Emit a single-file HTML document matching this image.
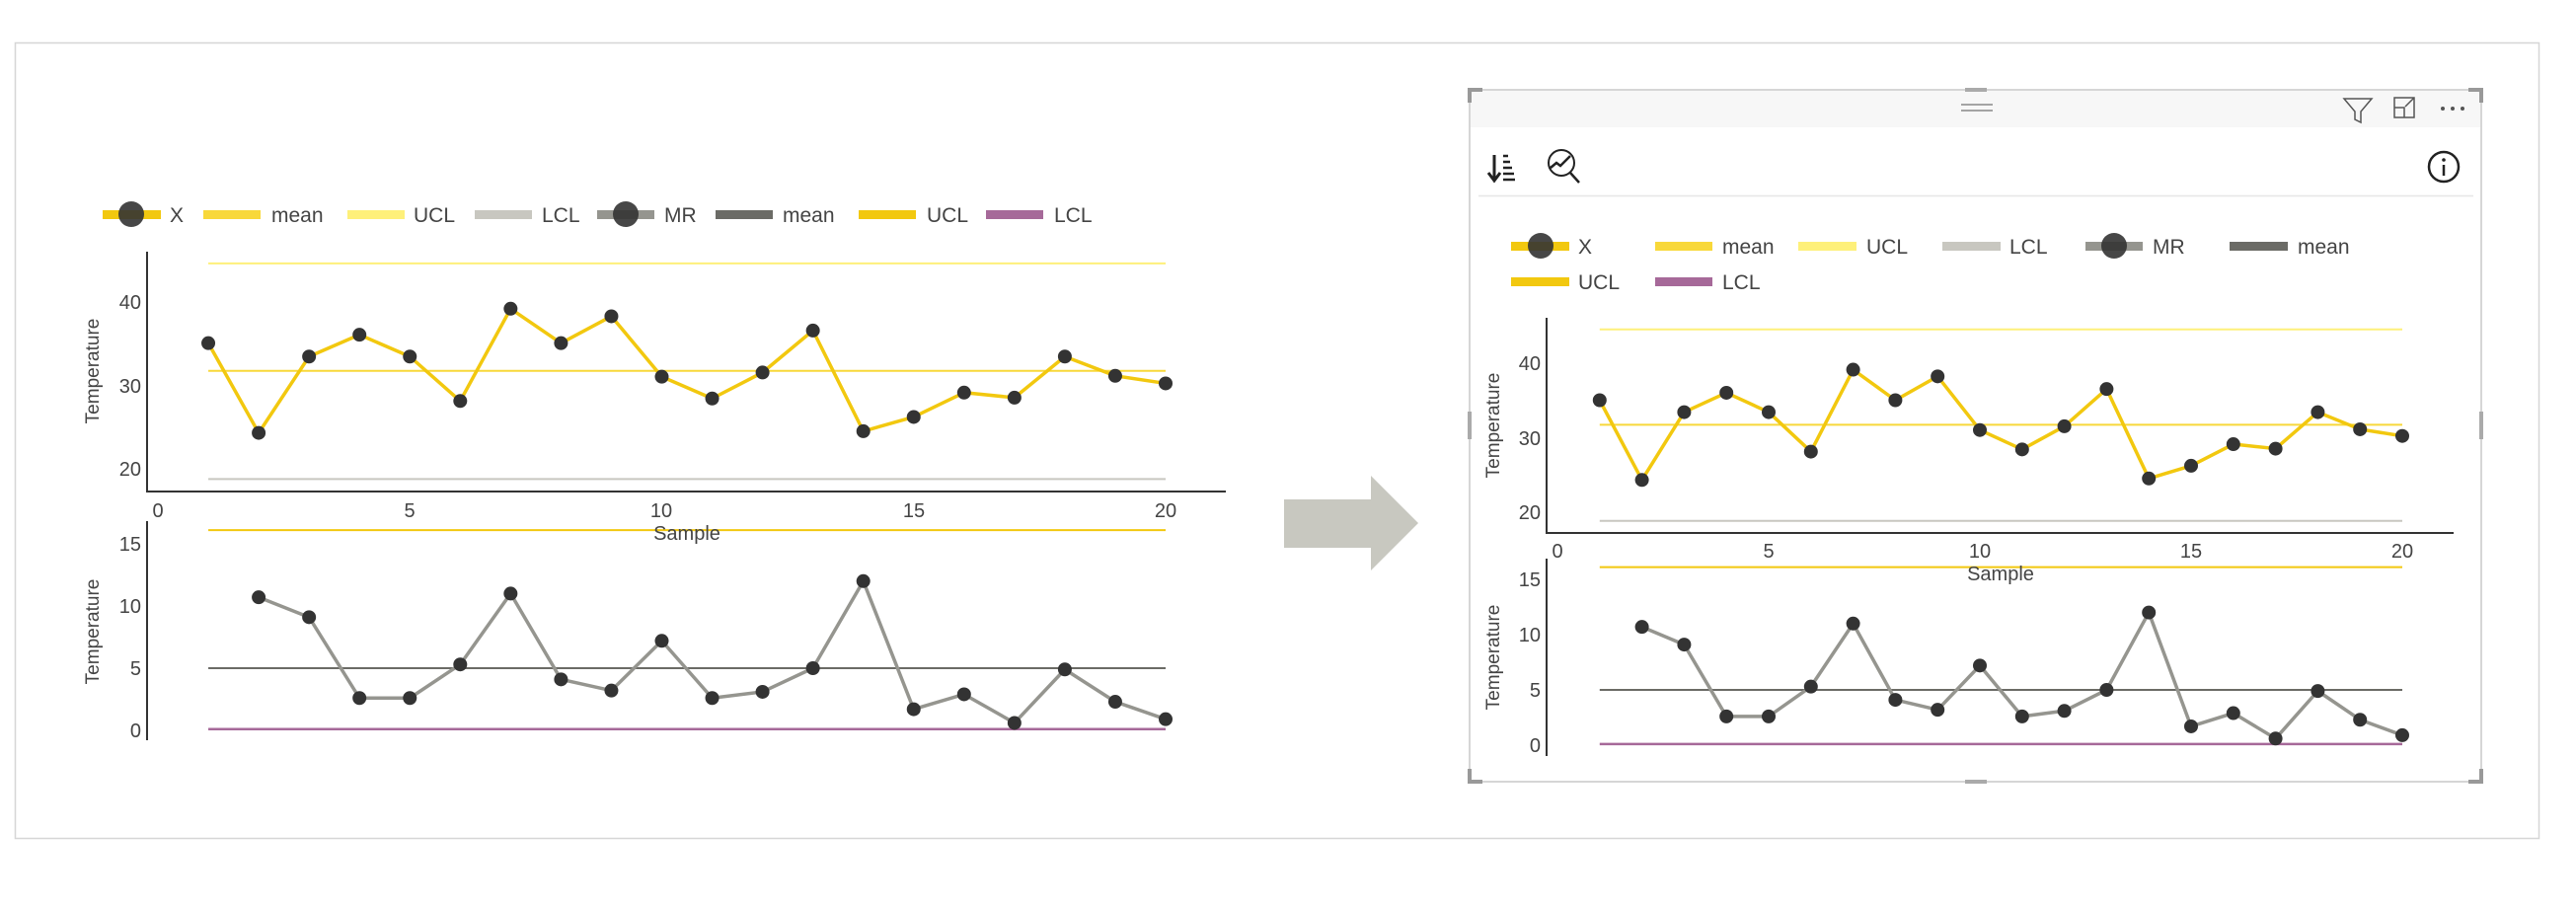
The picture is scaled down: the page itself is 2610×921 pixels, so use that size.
<!DOCTYPE html>
<html><head><meta charset="utf-8"><style>
html,body{margin:0;padding:0;background:#fff;}
svg{display:block;font-family:"Liberation Sans",sans-serif;}
</style></head><body>
<svg width="2610" height="921" viewBox="0 0 2610 921" xmlns="http://www.w3.org/2000/svg">
<defs>
<polyline id="xl" points="1,35.1 2,24.4 3,33.5 4,36.1 5,33.5 6,28.2 7,39.2 8,35.1 9,38.3 10,31.1 11,28.5 12,31.6 13,36.6 14,24.6 15,26.3 16,29.2 17,28.6 18,33.5 19,31.2 20,30.3" fill="none" stroke="#F2C80F" stroke-width="3.5" vector-effect="non-scaling-stroke" stroke-linejoin="round"/>
<path id="xd" d="M1 35.1h0M2 24.4h0M3 33.5h0M4 36.1h0M5 33.5h0M6 28.2h0M7 39.2h0M8 35.1h0M9 38.3h0M10 31.1h0M11 28.5h0M12 31.6h0M13 36.6h0M14 24.6h0M15 26.3h0M16 29.2h0M17 28.6h0M18 33.5h0M19 31.2h0M20 30.3h0" stroke="#333" stroke-width="14" stroke-linecap="round" vector-effect="non-scaling-stroke"/>
<polyline id="ml" points="2,10.7 3,9.1 4,2.6 5,2.6 6,5.3 7,11 8,4.1 9,3.2 10,7.2 11,2.6 12,3.1 13,5 14,12 15,1.7 16,2.9 17,0.6 18,4.9 19,2.3 20,0.9" fill="none" stroke="#95958F" stroke-width="3.5" vector-effect="non-scaling-stroke" stroke-linejoin="round"/>
<path id="md" d="M2 10.7h0M3 9.1h0M4 2.6h0M5 2.6h0M6 5.3h0M7 11h0M8 4.1h0M9 3.2h0M10 7.2h0M11 2.6h0M12 3.1h0M13 5h0M14 12h0M15 1.7h0M16 2.9h0M17 0.6h0M18 4.9h0M19 2.3h0M20 0.9h0" stroke="#333" stroke-width="14" stroke-linecap="round" vector-effect="non-scaling-stroke"/>
<g id="xlim">
<path d="M1 44.6H20" stroke="#FEF07A" stroke-width="2" vector-effect="non-scaling-stroke"/>
<path d="M1 31.8H20" stroke="#F8D83A" stroke-width="2" vector-effect="non-scaling-stroke"/>
<path d="M1 18.9H20" stroke="#C8C7C0" stroke-width="2" vector-effect="non-scaling-stroke"/>
</g>
<g id="mlim">
<path d="M1 16.1H20" stroke="#F2C80F" stroke-width="2" vector-effect="non-scaling-stroke"/>
<path d="M1 5H20" stroke="#6B6B66" stroke-width="2" vector-effect="non-scaling-stroke"/>
<path d="M1 0.1H20" stroke="#A66999" stroke-width="2.5" vector-effect="non-scaling-stroke"/>
</g>
</defs>

<!-- outer frame -->
<rect x="15.5" y="43.5" width="2557" height="806" fill="none" stroke="#D6D6D6" stroke-width="1.5"/>

<!-- LEFT -->
<g font-size="21" fill="#444">
<rect x="104" y="213" width="59" height="9" fill="#F2C80F"/><circle cx="133" cy="217" r="13" fill="#333" opacity="0.9"/><text x="172" y="225">X</text>
<rect x="206" y="213" width="58" height="9" fill="#F8D83A"/><text x="275" y="225">mean</text>
<rect x="352" y="213" width="58" height="9" fill="#FEF07A"/><text x="419" y="225">UCL</text>
<rect x="481" y="213" width="58" height="9" fill="#C8C7C0"/><text x="549" y="225">LCL</text>
<rect x="605" y="213" width="58" height="9" fill="#95958F"/><circle cx="634" cy="217" r="13" fill="#333" opacity="0.9"/><text x="673" y="225">MR</text>
<rect x="725" y="213" width="58" height="9" fill="#6B6B66"/><text x="793" y="225">mean</text>
<rect x="870" y="213" width="58" height="9" fill="#F2C80F"/><text x="939" y="225">UCL</text>
<rect x="999" y="213" width="58" height="9" fill="#A66999"/><text x="1068" y="225">LCL</text>
</g>
<g transform="translate(160,646) scale(51.05,-8.5)"><use href="#xlim"/><use href="#xl"/><use href="#xd"/></g>
<g transform="translate(160,740) scale(51.05,-12.6)"><use href="#mlim"/><use href="#ml"/><use href="#md"/></g>
<path d="M149 255V498H1242M149 528V750" stroke="#333" stroke-width="2" fill="none"/>
<g font-size="20" fill="#444" text-anchor="middle">
<text x="160" y="524">0</text><text x="415" y="524">5</text><text x="670" y="524">10</text><text x="926" y="524">15</text><text x="1181" y="524">20</text>
<text x="696" y="547">Sample</text>
</g>
<g font-size="20" fill="#444" text-anchor="end">
<text x="143" y="313">40</text><text x="143" y="398">30</text><text x="143" y="482">20</text>
<text x="143" y="558">15</text><text x="143" y="621">10</text><text x="143" y="684">5</text><text x="143" y="747">0</text>
</g>
<g font-size="19" fill="#444" text-anchor="middle">
<text transform="translate(100,376) rotate(-90)">Temperature</text>
<text transform="translate(100,640) rotate(-90)">Temperature</text>
</g>

<!-- ARROW -->
<polygon points="1301,506 1389,506 1389,482 1437,530 1389,578 1389,555 1301,555" fill="#C8C8C0"/>

<!-- RIGHT -->
<rect x="1489" y="91" width="1025" height="701" fill="#fff" stroke="#C8C8C8" stroke-width="1.5"/>
<rect x="1490" y="92" width="1023" height="37" fill="#F7F7F7"/>
<path d="M1489 104V91H1502M2501 91H2514V104M1489 779V792H1502M2501 792H2514V779" stroke="#999" stroke-width="4" fill="none"/>
<path d="M1991 91h22M1991 792h22M1489 417v28M2514 417v28" stroke="#aaa" stroke-width="4"/>
<path d="M1987 106h32M1987 112h32" stroke="#888" stroke-width="1.5"/>
<path d="M2375 100h28l-11 13v11l-6-3v-8z" fill="none" stroke="#555" stroke-width="1.5"/>
<path d="M2426 99h20v20h-20zM2426 109h10v10M2437 108l9-9M2440 99h6v6" fill="none" stroke="#555" stroke-width="1.5"/>
<g fill="#555"><circle cx="2475" cy="110" r="2"/><circle cx="2485" cy="110" r="2"/><circle cx="2495" cy="110" r="2"/></g>
<path d="M1514 157v25M1508 175l6 8 6-8" stroke="#222" stroke-width="3" fill="none"/>
<path d="M1523 158h5M1523 164h7M1523 170h9M1523 176h11M1523 182h12" stroke="#222" stroke-width="2.5"/>
<circle cx="1582" cy="165" r="13" fill="#fff" stroke="#222" stroke-width="2"/><path d="M1571 170l6-5 4 3 10-10M1591 175l9 10" stroke="#222" stroke-width="2.5" fill="none"/>
<circle cx="2476" cy="169" r="15" fill="none" stroke="#222" stroke-width="2.5"/><circle cx="2476" cy="162" r="1.8" fill="#222"/><path d="M2476 167v11" stroke="#222" stroke-width="2.5"/>
<path d="M1498 198.5H2506" stroke="#E6E6E6" stroke-width="1.5"/>
<g font-size="21" fill="#444">
<rect x="1531" y="245" width="59" height="9" fill="#F2C80F"/><circle cx="1561" cy="249" r="13" fill="#333" opacity="0.9"/><text x="1599" y="257">X</text>
<rect x="1677" y="245" width="58" height="9" fill="#F8D83A"/><text x="1745" y="257">mean</text>
<rect x="1822" y="245" width="59" height="9" fill="#FEF07A"/><text x="1891" y="257">UCL</text>
<rect x="1968" y="245" width="59" height="9" fill="#C8C7C0"/><text x="2036" y="257">LCL</text>
<rect x="2113" y="245" width="58" height="9" fill="#95958F"/><circle cx="2142" cy="249" r="13" fill="#333" opacity="0.9"/><text x="2181" y="257">MR</text>
<rect x="2259" y="245" width="59" height="9" fill="#6B6B66"/><text x="2328" y="257">mean</text>
<rect x="1531" y="281" width="59" height="9" fill="#F2C80F"/><text x="1599" y="293">UCL</text>
<rect x="1677" y="281" width="58" height="9" fill="#A66999"/><text x="1745" y="293">LCL</text>
</g>
<g transform="translate(1578,670.5) scale(42.8,-7.55)"><use href="#xlim"/><use href="#xl"/><use href="#xd"/></g>
<g transform="translate(1578,755) scale(42.8,-11.2)"><use href="#mlim"/><use href="#ml"/><use href="#md"/></g>
<path d="M1567 322V540H2486M1567 566V766" stroke="#333" stroke-width="2" fill="none"/>
<g font-size="20" fill="#444" text-anchor="middle">
<text x="1578" y="565">0</text><text x="1792" y="565">5</text><text x="2006" y="565">10</text><text x="2220" y="565">15</text><text x="2434" y="565">20</text>
<text x="2027" y="588">Sample</text>
</g>
<g font-size="20" fill="#444" text-anchor="end">
<text x="1561" y="375">40</text><text x="1561" y="451">30</text><text x="1561" y="526">20</text>
<text x="1561" y="594">15</text><text x="1561" y="650">10</text><text x="1561" y="706">5</text><text x="1561" y="762">0</text>
</g>
<g font-size="19" fill="#444" text-anchor="middle">
<text transform="translate(1519,431) rotate(-90)">Temperature</text>
<text transform="translate(1519,666) rotate(-90)">Temperature</text>
</g>
</svg>
</body></html>
